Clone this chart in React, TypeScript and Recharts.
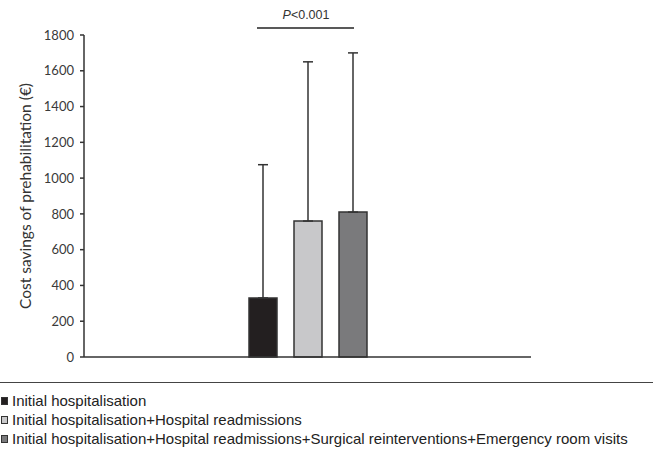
import { BarChart, Bar, XAxis, YAxis, ErrorBar, Legend, Label } from 'recharts';

// series names (legend order)
const seriesNames = [
    'Initial hospitalisation',
    'Initial hospitalisation+Hospital readmissions',
    'Initial hospitalisation+Hospital readmissions+Surgical reinterventions+Emergency room visits',
];
const seriesKeys = ['hosp', 'readm', 'all'];
const seriesFills = ['#231f20', '#c8c8ca', '#7a7a7c'];

// mean cost savings (€) and upper SD
const meanValues = [330, 760, 810];
const upperErrors = [745, 890, 890];

const yTicks = [0, 200, 400, 600, 800, 1000, 1200, 1400, 1600, 1800];

// single group, one bar per series
const row: any = { name: '' };
seriesKeys.forEach((k, i) => {
    row[k] = meanValues[i];
    row[k + 'Err'] = [0, upperErrors[i]];
});
const data = [row];

const YLabel = (props: any) => {
    const vb = props.viewBox || {};
    const cx = vb.x + 25;
    const cy = vb.y + vb.height / 2;
    return (
        <text x={cx} y={cy} transform={`rotate(-90 ${cx} ${cy})`} textAnchor="middle" dominantBaseline="central"
            style={{ fontFamily: 'Lato', fontSize: 15.5, fill: '#333' }}>
            Cost savings of prehabilitation (€)
        </text>
    );
};

const LegendBox = (props: any) => {
    const items = props.payload || [];
    return (
        <div style={{ borderTop: '1.5px solid #444', paddingTop: 8, width: 653 }}>
            {items.map((it: any, i: number) => (
                <div key={i} style={{ display: 'flex', alignItems: 'center', height: 19, paddingLeft: 1, whiteSpace: 'nowrap' }}>
                    <span style={{ display: 'inline-block', flex: 'none', width: 5, height: 6, background: it.color, border: '1px solid #333', marginRight: 4 }} />
                    <span style={{ fontFamily: '"Liberation Sans", Arial, sans-serif', fontSize: 15, color: '#222' }}>{it.value}</span>
                </div>
            ))}
        </div>
    );
};

export default function App() {
    return (
        <div style={{ position: 'absolute', left: 0, top: 0, width: 653, height: 454, background: '#fff', overflow: 'hidden' }}>
            <BarChart width={653} height={454} data={data} barSize={28} barGap={17}
                margin={{ top: 35, right: 122, bottom: 77, left: 0 }}>
                <XAxis dataKey="name" tick={false} tickLine={false} height={20} axisLine={{ stroke: '#333', strokeWidth: 1.5 }} />
                <YAxis width={84} domain={[0, 1800]} ticks={yTicks} interval={0} tickSize={4} tickMargin={6}
                    axisLine={{ stroke: '#333', strokeWidth: 1.5 }} tickLine={{ stroke: '#333', strokeWidth: 1.5 }}
                    tick={{ fontFamily: 'Lato', fontSize: 13, fill: '#3a3a3a' }}>
                    <Label content={<YLabel />} />
                </YAxis>
                {seriesKeys.map((k, i) => (
                    <Bar key={k} dataKey={k} name={seriesNames[i]} fill={seriesFills[i]} stroke="#333" strokeWidth={1.5} isAnimationActive={false}>
                        <ErrorBar dataKey={k + 'Err'} direction="y" width={5} stroke="#333" strokeWidth={1.5} isAnimationActive={false} />
                    </Bar>
                ))}
                <Legend layout="horizontal" verticalAlign="middle" align="center" content={<LegendBox />}
                    wrapperStyle={{ top: 382, left: 0, width: 653 }} />
            </BarChart>
            <svg width={653} height={40} style={{ position: 'absolute', left: 0, top: 0 }}>
                <text x={306} y={19} textAnchor="middle" style={{ fontFamily: '"Liberation Sans", Arial, sans-serif', fontSize: 12.5, fill: '#333' }}>
                    <tspan fontStyle="italic">P</tspan>&lt;0.001
                </text>
                <line x1={257} x2={354} y1={28} y2={28} stroke="#222" strokeWidth={1.5} />
            </svg>
        </div>
    );
}
